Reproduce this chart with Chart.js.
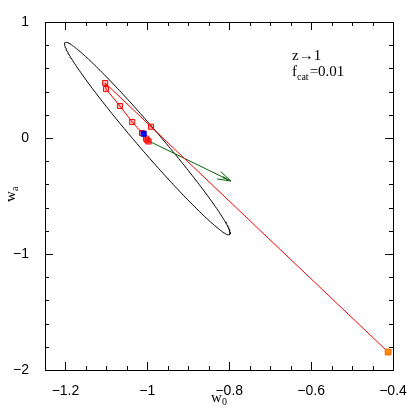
<!DOCTYPE html>
<html>
<head>
<meta charset="utf-8">
<script src="https://cdn.jsdelivr.net/npm/chart.js@4.4.1/dist/chart.umd.min.js"></script>
<style>
html,body{margin:0;padding:0;background:#fff;}
#wrap{width:415px;height:415px;}
</style>
</head>
<body>
<div id="wrap"><canvas id="c" width="415" height="415"></canvas></div>
<script>
// ---- data ----
const xTicks = [-1.2, -1.0, -0.8, -0.6, -0.4];
const yTicks = [-2, -1, 0, 1];
const xRange = [-1.25, -0.4];
const yRange = [-2, 1];

// red trajectory (w0, wa)
const trackW0 = [-0.997, -1.000, -1.003, -1.013, -1.037, -1.067, -1.101, -1.103, -0.991, -0.412];
const trackWa = [-0.030, -0.020, -0.005, 0.043, 0.138, 0.276, 0.422, 0.474, 0.097, -1.845];

// special points
const bluePoint = {w0: -1.009, wa: 0.037};
const orangePoint = {w0: -0.412, wa: -1.845};

// green arrow (start -> end)
const arrowW0 = [-1.000, -0.796];
const arrowWa = [-0.020, -0.371];

// error ellipse: centre and two conjugate semi-diameters (data units)
const ellCentre = [-1.0, -0.005];
const ellConjA = [-0.199, 0.830];
const ellConjB = [0.036, 0.0];

const annotation1 = 'z\u21921';
const annotation2 = ['f', 'cat', '=0.01'];

// ---- build ----
const ellipsePts = [];
for (let i = 0; i <= 240; i++) {
  const t = i / 240 * 2 * Math.PI;
  ellipsePts.push({
    x: ellCentre[0] + Math.cos(t) * ellConjA[0] + Math.sin(t) * ellConjB[0],
    y: ellCentre[1] + Math.cos(t) * ellConjA[1] + Math.sin(t) * ellConjB[1]
  });
}
const trackPts = trackW0.map((v, i) => ({x: v, y: trackWa[i]}));
const arrowPts = arrowW0.map((v, i) => ({x: v, y: arrowWa[i]}));

const fmt = v => {
  const r = Math.round(v * 100) / 100;
  if (r === 0) return '0';
  return String(r).replace('-', '\u2212');
};

const framePlugin = {
  id: 'frame',
  afterDatasetsDraw(chart) {
    const {ctx, chartArea: a, scales} = chart;
    const xs = scales.x, ys = scales.y;
    ctx.save();
    // arrow head
    const p0x = xs.getPixelForValue(arrowW0[0]), p0y = ys.getPixelForValue(arrowWa[0]);
    const p1x = xs.getPixelForValue(arrowW0[1]), p1y = ys.getPixelForValue(arrowWa[1]);
    const ang = Math.atan2(p1y - p0y, p1x - p0x);
    const L = 14, h = 0.3;
    ctx.strokeStyle = '#0a640a';
    ctx.fillStyle = '#0a640a';
    ctx.lineWidth = 1;
    ctx.beginPath();
    ctx.moveTo(p1x - L * Math.cos(ang - h), p1y - L * Math.sin(ang - h));
    ctx.lineTo(p1x, p1y);
    ctx.lineTo(p1x - L * Math.cos(ang + h), p1y - L * Math.sin(ang + h));
    ctx.stroke();
    ctx.beginPath();
    ctx.moveTo(p1x, p1y);
    ctx.lineTo(p1x - 9 * Math.cos(ang - 0.12), p1y - 9 * Math.sin(ang - 0.12));
    ctx.lineTo(p1x - 9 * Math.cos(ang + 0.12), p1y - 9 * Math.sin(ang + 0.12));
    ctx.closePath();
    ctx.fill();

    // frame
    ctx.strokeStyle = '#000';
    ctx.lineWidth = 1;
    ctx.strokeRect(Math.round(a.left) + 0.5, Math.round(a.top) + 0.5,
                   Math.round(a.right - a.left), Math.round(a.bottom - a.top));
    // ticks
    ctx.beginPath();
    const major = 8, minor = 4;
    for (let v = xRange[0]; v <= xRange[1] + 1e-9; v += 0.05) {
      const vv = Math.round(v * 100) / 100;
      const isMajor = Math.abs(Math.round(vv * 5) - vv * 5) < 1e-6;
      const px = Math.round(xs.getPixelForValue(vv)) + 0.5;
      const len = isMajor ? major : minor;
      ctx.moveTo(px, a.bottom); ctx.lineTo(px, a.bottom - len);
      ctx.moveTo(px, a.top); ctx.lineTo(px, a.top + len);
    }
    for (let v = yRange[0]; v <= yRange[1] + 1e-9; v += 0.2) {
      const vv = Math.round(v * 10) / 10;
      const isMajor = Math.abs(vv - Math.round(vv)) < 1e-6;
      const py = Math.round(ys.getPixelForValue(vv)) + 0.5;
      const len = isMajor ? major : minor;
      ctx.moveTo(a.left, py); ctx.lineTo(a.left + len, py);
      ctx.moveTo(a.right, py); ctx.lineTo(a.right - len, py);
    }
    ctx.stroke();

    // annotation
    ctx.fillStyle = '#000';
    ctx.textBaseline = 'alphabetic';
    ctx.textAlign = 'left';
    ctx.font = '15px "Liberation Serif", serif';
    ctx.fillText(annotation1, 292, 60);
    let x = 292;
    ctx.fillText(annotation2[0], x, 76);
    x += ctx.measureText(annotation2[0]).width;
    ctx.font = '10px "Liberation Serif", serif';
    ctx.fillText(annotation2[1], x, 80);
    x += ctx.measureText(annotation2[1]).width + 1;
    ctx.font = '15px "Liberation Serif", serif';
    ctx.fillText(annotation2[2], x, 76);

    // axis titles
    ctx.font = '15px "Liberation Serif", serif';
    ctx.fillText('w', 211, 402);
    ctx.font = '10px "Liberation Serif", serif';
    ctx.fillText('0', 222, 405);
    ctx.save();
    ctx.translate(15, 202);
    ctx.rotate(-Math.PI / 2);
    ctx.font = '15px "Liberation Serif", serif';
    ctx.fillText('w', 0, 0);
    ctx.font = '10px "Liberation Serif", serif';
    ctx.fillText('a', 11, 3);
    ctx.restore();
    ctx.restore();
  }
};

new Chart(document.getElementById('c'), {
  type: 'scatter',
  data: {
    datasets: [
      {
        data: [{x: bluePoint.w0, y: bluePoint.wa}],
        pointStyle: 'rect', pointRadius: 3.6, backgroundColor: '#0000ff',
        borderColor: '#0000cc', borderWidth: 1, order: 0
      },
      {
        data: [{x: orangePoint.w0, y: orangePoint.wa}],
        pointStyle: 'rect', pointRadius: 4, backgroundColor: '#ff8c00',
        borderColor: '#ff7000', borderWidth: 1, order: 1
      },
      {
        data: trackPts, showLine: true, borderColor: '#ff0000', borderWidth: 1,
        pointStyle: 'rect', pointRadius: 3.6, pointBorderColor: '#ff0000',
        pointBackgroundColor: 'rgba(255,0,0,0.25)', pointBorderWidth: 1, order: 2
      },
      {
        data: arrowPts, showLine: true, borderColor: '#0a640a', borderWidth: 1,
        pointRadius: 0, order: 3
      },
      {
        data: ellipsePts, showLine: true, borderColor: '#000', borderWidth: 1,
        pointRadius: 0, order: 4, tension: 0
      }
    ]
  },
  options: {
    responsive: false,
    animation: false,
    events: [],
    layout: {padding: {top: 22, right: 22, left: 0, bottom: 0}},
    plugins: {legend: {display: false}, tooltip: {enabled: false}},
    scales: {
      x: {
        type: 'linear', min: xRange[0], max: xRange[1],
        grid: {display: false}, border: {display: false},
        afterBuildTicks: s => { s.ticks = xTicks.map(v => ({value: v})); },
        afterFit: s => { s.height = 45; },
        ticks: {callback: v => fmt(v), color: '#000', padding: 5,
                font: {family: '"Liberation Sans", sans-serif', size: 14}, maxRotation: 0}
      },
      y: {
        type: 'linear', min: yRange[0], max: yRange[1],
        grid: {display: false}, border: {display: false},
        afterBuildTicks: s => { s.ticks = yTicks.map(v => ({value: v})); },
        afterFit: s => { s.width = 45; },
        ticks: {callback: v => fmt(v), color: '#000', padding: 8,
                font: {family: '"Liberation Sans", sans-serif', size: 14}}
      }
    }
  },
  plugins: [framePlugin]
});
</script>
</body>
</html>
